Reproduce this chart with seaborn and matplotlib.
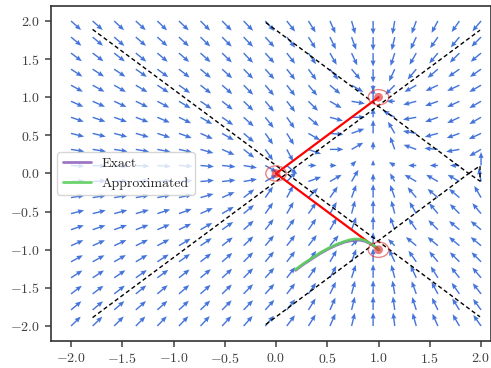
import numpy as np
import matplotlib
matplotlib.use("Agg")
import matplotlib.pyplot as plt
from matplotlib.patches import Circle
import seaborn as sns

# ── data ──────────────────────────────────────────────────────────────────────

# quiver grid, 20 points on [-2, 2] along each axis
GRID = [-2.0, -1.789, -1.579, -1.368, -1.158, -0.947, -0.737, -0.526, -0.316, -0.105,
        0.105, 0.316, 0.526, 0.737, 0.947, 1.158, 1.368, 1.579, 1.789, 2.0]

# arrow direction on screen (degrees), rows from y=2 (top) down to y=-2
ARROW_ANGLE = [
    [-42, -42, -43, -43, -44, -44, -45, -45, -46, -48, -52, -58, -66, -74, -90, -100, -110, -118, -125, -130],
    [-40, -40, -41, -41, -42, -43, -44, -45, -46, -48, -52, -58, -64, -70, -90, -103, -115, -125, -130, -135],
    [-37, -37, -38, -39, -40, -41, -42, -44, -46, -48, -52, -56, -60, -65, -90, -108, -120, -130, -135, -140],
    [-33, -33, -34, -35, -36, -38, -40, -42, -45, -48, -52, -54, -52, -50, -90, -115, -130, -140, -145, -145],
    [-29, -29, -30, -31, -33, -35, -38, -41, -45, -50, -52, -50, -40, -30, -90, -135, -150, -155, -155, -150],
    [-24, -24, -25, -26, -28, -31, -34, -38, -44, -50, -52, -45, -30, -10, 90, 180, -165, -160, -155, -150],
    [-19, -19, -20, -21, -23, -26, -30, -35, -42, -52, -55, -40, -15, 0, 90, 150, -170, -160, -155, -150],
    [-14, -14, -15, -16, -18, -20, -24, -30, -40, -55, -58, -30, -5, 20, 90, 120, 170, -165, -160, -155],
    [-9, -9, -9, -10, -11, -13, -16, -24, -38, -55, -62, -20, 0, 30, 90, 110, 160, 175, -170, -150],
    [-3, -3, -3, -3, -4, -4, -5, -6, -10, -30, -40, 0, 0, 45, 90, 150, 180, 180, 180, 90],
    [3, 3, 3, 3, 4, 4, 5, 6, 10, 30, 45, 20, 30, 60, 90, 120, 150, 150, 150, 100],
    [9, 9, 9, 10, 11, 13, 16, 24, 38, 55, 62, 45, 55, 70, 90, 110, 130, 140, 140, 120],
    [14, 14, 15, 16, 18, 20, 24, 30, 40, 55, 60, 55, 60, 75, 90, 105, 120, 130, 135, 130],
    [19, 19, 20, 21, 23, 26, 30, 35, 42, 52, 55, 55, 60, 70, 90, 110, 125, 135, 140, 140],
    [24, 24, 25, 26, 28, 31, 34, 38, 44, 50, 52, 52, 50, 45, 90, 135, 140, 140, 140, 140],
    [29, 29, 30, 31, 33, 35, 38, 41, 45, 50, 52, 55, 60, 70, 90, 115, 125, 130, 135, 135],
    [33, 33, 34, 35, 36, 38, 40, 42, 45, 48, 52, 55, 62, 72, 90, 105, 115, 122, 128, 130],
    [37, 37, 38, 39, 40, 41, 42, 44, 46, 48, 52, 56, 64, 75, 90, 100, 110, 118, 125, 128],
    [40, 40, 41, 41, 42, 43, 44, 45, 46, 48, 52, 58, 66, 76, 90, 98, 108, 116, 122, 126],
    [44, 44, 45, 45, 46, 46, 47, 47, 48, 50, 53, 58, 66, 76, 90, 97, 106, 114, 120, 125],
]

# arrows drawn shorter than the rest: (row, column, relative length)
SHORT_ARROWS = [
    (4, 14, 0.5), (5, 15, 0.6), (9, 11, 0.6), (9, 12, 0.5), (9, 13, 0.5), (9, 14, 0.4),
    (9, 15, 0.5), (9, 16, 0.6), (9, 17, 0.6), (9, 18, 0.7), (10, 14, 0.6), (10, 15, 0.7),
    (8, 14, 0.6), (6, 14, 0.7), (14, 15, 0.7), (14, 13, 0.7),
]

# red points and their connections
POINTS_X = [0.0, 1.0, 1.0]
POINTS_Y = [0.0, 1.0, -1.0]

# dashed curves (pairs of x / y lists)
DASH_CURVES = [
    ([-1.79, 1.99], [1.89, -1.88]),
    ([-1.79, 1.99], [-1.89, 1.88]),
    ([-0.10, 1.88], [1.98, 0.0]),
    ([-0.10, 1.88], [-1.98, 0.0]),
    ([1.88, 1.99, 1.99, 1.88], [0.0, 0.10, -0.10, 0.0]),
]

# trajectories
APPROX_X = [0.19, 0.27, 0.35, 0.43, 0.51, 0.59, 0.67, 0.72, 0.77, 0.82, 0.87, 0.91, 0.95, 0.98, 1.0]
APPROX_Y = [-1.26, -1.18, -1.11, -1.04, -0.98, -0.93, -0.89, -0.87, -0.86, -0.86, -0.88, -0.91, -0.94, -0.97, -1.0]
EXACT_X = [0.19, 0.27, 0.35, 0.43, 0.51, 0.59, 0.67, 0.72, 0.77, 0.82, 0.87, 0.91, 0.95, 0.98, 1.0]
EXACT_Y = [-1.27, -1.19, -1.12, -1.05, -0.99, -0.94, -0.90, -0.885, -0.875, -0.875, -0.89, -0.915, -0.945, -0.975, -1.0]

sns.set_theme(style="ticks")
plt.rcParams.update({
    "font.family": "serif",
    "font.serif": ["cmr10", "DejaVu Serif"],
    "mathtext.fontset": "cm",
    "axes.formatter.use_mathtext": True,
    "axes.unicode_minus": True,
    "font.size": 10,
    "xtick.labelsize": 10,
    "ytick.labelsize": 10,
    "legend.fontsize": 10,
})


def main() -> None:
    fig = plt.figure(figsize=(4.91, 3.68), dpi=100)
    ax = fig.add_axes([0.1029, 0.0727, 0.8977, 0.9117])

    gx, gy = np.meshgrid(GRID, GRID[::-1])
    ang = np.radians(np.array(ARROW_ANGLE, dtype=float))
    length = np.ones_like(ang)
    for row, col, frac in SHORT_ARROWS:
        length[row, col] = frac
    ax.quiver(gx, gy, length * np.cos(ang), length * np.sin(ang),
              color="#4575da", angles="uv", scale_units="inches", scale=1 / 0.135,
              width=0.0032, headwidth=3.6, headlength=4.4, headaxislength=4.0, zorder=2)

    for xs, ys in DASH_CURVES:
        ax.plot(xs, ys, color="black", ls="--", lw=1.0, dashes=(3, 2), zorder=3)

    for px, py in zip(POINTS_X[1:], POINTS_Y[1:]):
        ax.plot([POINTS_X[0], px], [POINTS_Y[0], py], color="red", lw=1.6, zorder=4)

    sns.lineplot(x=EXACT_X, y=EXACT_Y, sort=False, color="#9467bd", lw=2,
                 alpha=0.9, label="Exact", ax=ax, zorder=5)
    sns.lineplot(x=APPROX_X, y=APPROX_Y, sort=False, color="#5ccf5c", lw=2,
                 alpha=0.9, label="Approximated", ax=ax, zorder=6)

    sns.scatterplot(x=POINTS_X, y=POINTS_Y, color="#e02020", alpha=0.6, s=40,
                    edgecolor="none", ax=ax, zorder=7)
    for px, py in zip(POINTS_X, POINTS_Y):
        ax.add_patch(Circle((px, py), 0.1, fill=False, edgecolor="#e03030",
                            alpha=0.6, lw=1.0, zorder=7))

    ax.set_xlim(-2.2, 2.1)
    ax.set_ylim(-2.2, 2.2)
    ax.set_xticks(np.arange(-2, 2.01, 0.5))
    ax.set_yticks(np.arange(-2, 2.01, 0.5))
    ax.tick_params(length=4, width=1.1, colors="0.25")
    for side in ax.spines.values():
        side.set_linewidth(1.2)
        side.set_color("0.2")

    ax.legend(loc="center left", frameon=True, framealpha=0.8, edgecolor="0.8",
              handlelength=2.0, borderaxespad=0.5)

    fig.savefig("out.png", dpi=100)
    plt.close(fig)


if __name__ == "__main__":
    main()
